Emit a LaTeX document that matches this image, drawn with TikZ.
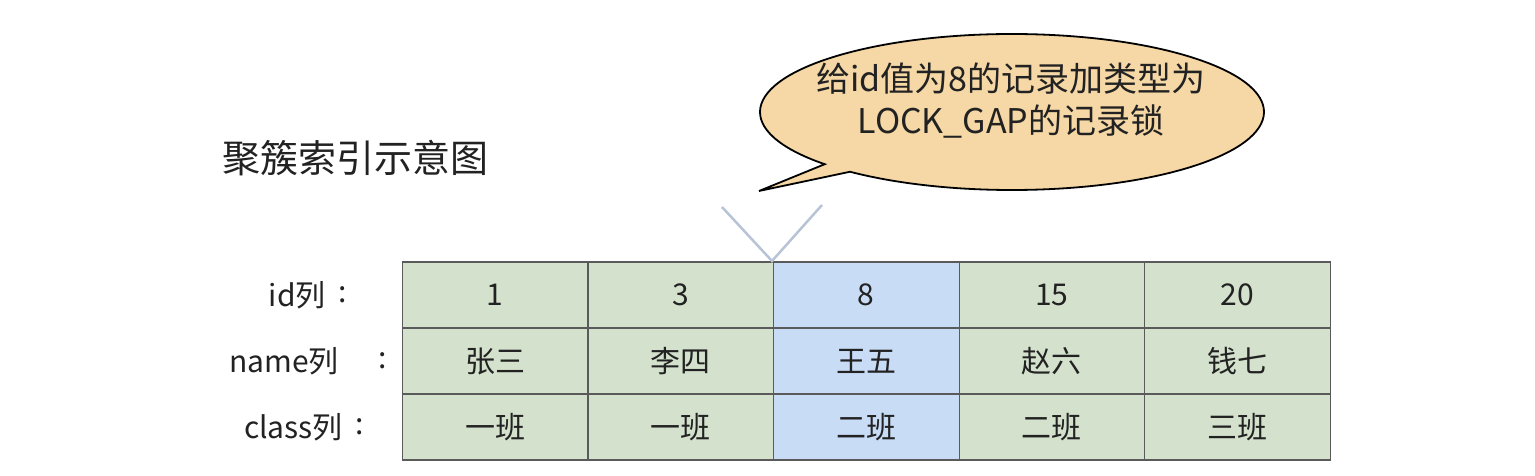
\documentclass[tikz,border=0pt]{standalone}
\usepackage{fontspec}
\setmainfont{Noto Sans CJK SC}
\definecolor{cellgreen}{HTML}{D4E2CD}
\definecolor{cellblue}{HTML}{C8DCF6}
\definecolor{gridline}{HTML}{5A5A5A}
\definecolor{txt}{HTML}{222222}
\definecolor{bubblefill}{HTML}{F6D8A6}
\definecolor{vline}{HTML}{B8C4D6}
\begin{document}
\begin{tikzpicture}[x=1pt,y=-1pt,
  cell/.style={draw=gridline,line width=1.2pt,minimum width=185.6pt,minimum height=66pt,inner sep=0pt,text=txt,font=\fontsize{30}{34}\selectfont},
  g/.style={cell,fill=cellgreen},
  b/.style={cell,fill=cellblue},
  lbl/.style={anchor=east,inner sep=0pt,text=txt,font=\fontsize{30}{34}\selectfont},
  colon/.style={inner sep=0pt,text=txt,font=\fontsize{30}{34}\selectfont}]
\useasboundingbox (0,0) rectangle (1535,476);
\fill[white] (0,0) rectangle (1535,476);
% title
\node[text=txt,font=\fontsize{38}{44}\selectfont] (title) at (355,158) {聚簇索引示意图};
% table
\def\colx{{495.1,680.7,866.3,1051.9,1237.5}}
\node[g] (c11) at (495.1,295) {1};
\node[g] (c12) at (680.7,295) {3};
\node[b] (c13) at (866.3,295) {8};
\node[g] (c14) at (1051.9,295) {15};
\node[g] (c15) at (1237.5,295) {20};
\node[g] (c21) at (495.1,361) {张三};
\node[g] (c22) at (680.7,361) {李四};
\node[b] (c23) at (866.3,361) {王五};
\node[g] (c24) at (1051.9,361) {赵六};
\node[g] (c25) at (1237.5,361) {钱七};
\node[g] (c31) at (495.1,427) {一班};
\node[g] (c32) at (680.7,427) {一班};
\node[b] (c33) at (866.3,427) {二班};
\node[g] (c34) at (1051.9,427) {二班};
\node[g] (c35) at (1237.5,427) {三班};
% row labels
\node[lbl] (l1) at (326,295) {id列};
\node[colon] (k1) at (343,295) {:};
\node[lbl] (l2) at (339,361) {name列};
\node[colon] (k2) at (383,361) {:};
\node[lbl] (l3) at (343,427) {class列};
\node[colon] (k3) at (360,427) {:};
% V marker
\coordinate (vtip) at (772,261);
\coordinate (vl) at (722,207);
\coordinate (vr) at (822,205);
\draw[vline,line width=2.5pt] (vl) -- (vtip) -- (vr);
% speech bubble
\coordinate (btip) at (759,191);
\draw[fill=bubblefill,line width=1.8pt,line join=miter]
  (1012,112) ++(138:252 and 78) arc[start angle=138,end angle=490,x radius=252,y radius=78]
  -- (btip) -- cycle;
\node[align=center,text=txt,inner sep=0pt,font=\fontsize{34}{42}\selectfont] (bubble) at (1011,101) {给id值为8的记录加类型为\\LOCK\_GAP的记录锁};
\end{tikzpicture}
\end{document}
